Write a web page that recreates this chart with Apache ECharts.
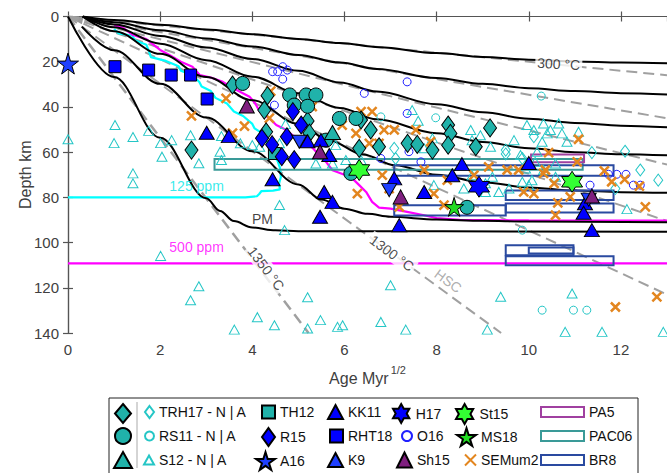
<!DOCTYPE html>
<html><head><meta charset="utf-8">
<script src="https://cdn.jsdelivr.net/npm/echarts@6/dist/echarts.min.js"></script>
<style>html,body{margin:0;padding:0;background:#fff}#c{width:667px;height:473px}</style>
</head><body><div id="c"></div>
<script>
// ---------------- data (x = Age Myr^1/2, y = Depth km) ----------------
const xTicks = [0, 2, 4, 6, 8, 10, 12];
const yTicks = [0, 20, 40, 60, 80, 100, 120, 140];

const trh17A = [[3.57,30.3],[2.68,59.1],[4.33,35],[4.26,41.4],[4.3,51],[5.2,46.2],[5.24,51.6],[6.36,45.8],[6.57,50.2],[6.32,58.3],[6.75,57.6],[7.37,56.1],[7.58,56.6],[7.91,59.1],[8.25,48],[8.3,51.7],[8.25,56.9],[8.85,57.6],[9.16,49.3]];
const rs11A = [[3.79,29.6],[4.81,34.7],[5.17,34.7],[5.38,34.7],[4.91,39.2],[5.2,39.7],[5.89,45.1],[6.25,45.1],[5.6,54.7],[6.14,69.4],[8.66,84.4]];
const s12A = [[5.74,51.3]];
const trh17N = [[7.08,58.3],[7.11,62.8],[9.5,59.1],[9.5,60.8],[11.37,60.2],[12.09,59.6],[10.11,53.2],[12.42,67.9],[12.81,72.4],[11.88,76.1],[9.86,62.8]];
const rs11N = [[6.79,44.4],[7.98,44.8],[10.27,35.2],[9.86,94.5],[10.29,129.9],[10.97,129.9],[11.26,129.9]];
const s12N = [[0,54.3],[1.02,48],[1.0,56],[1.41,53.3],[1.75,50.6],[2.01,56],[2.04,62],[2.25,54.7],[2.66,52.5],[2.84,64.9],[3.33,52.9],[3.3,59.8],[3.33,63.5],[3.74,56.1],[4.0,56.9],[4.16,57.6],[4.72,47.6],[4.59,56.1],[1.41,69.4],[1.41,73.8],[2.01,105.9],[2.84,119.3],[2.66,125.5],[3.61,138.5],[4.11,133],[4.48,136.6],[4.59,83.4],[4.7,94.5],[5.2,124.2],[5.2,138],[5.48,134.3],[5.85,137.3],[5.38,65],[5.74,65],[6.03,63.5],[6.36,63.5],[5.81,56.9],[7.47,41.4],[7.6,46.1],[7.91,53.9],[8.74,50.2],[8.95,52.5],[8.77,54.7],[9.17,57.6],[9.68,54.7],[7.73,58.3],[9.96,48],[10.32,47.3],[10.65,47.3],[10.47,50.2],[10.72,51.7],[10.11,50.2],[10.29,55.4],[10.4,51.7],[10.83,55.4],[11.08,51],[9.82,61.3],[10.18,59.8],[10.58,65],[10.14,64.3],[9.93,67.2],[7.0,118.9],[9.39,124],[10.94,122.5],[6.79,135.1],[7.33,138.5],[5.96,136.6],[9.1,138.5],[10.79,139.5],[11.59,139.5],[12.92,139.5],[12.13,85.2],[8.59,76.1],[9.06,77.6],[9.35,77.6],[9.57,76.1],[10.0,74.6],[10.07,72.4],[8.77,70.2],[10.32,67.9],[10.58,70.9],[9.86,73.1],[7.94,74.6],[9.21,70.9],[9.06,73.8]];
const th12 = [[4.48,60.6]];
const r15 = [[4.88,42.1],[5.06,48],[4.21,53.9],[4.43,56.7],[4.75,53.2],[4.64,62],[4.91,63.3]];
const a16 = [[0,20.8]];
const kk11 = [[3.01,51.4],[3.49,52.9],[5.2,55.2],[5.49,54.7],[5.67,61.3],[4.44,72],[5.56,77.6],[5.74,82],[5.47,88.6],[7.08,71.6],[7.73,77.6],[8.34,70.2],[8.55,65.3],[7.19,92.3],[10.0,64.8],[11.22,82.6],[11.19,86.8],[11.37,94.5]];
const rht18 = [[1.02,22.2],[1.75,23.7],[2.24,25.9],[2.66,25.9],[3.02,36.5]];
const k9 = [[5.02,55.4],[6.97,76.8],[11.3,81]];
const h17 = [[8.92,75.3]];
const o16 = [[4.66,22.2],[4.55,24.4],[4.76,23.7],[4.44,24.4],[4.66,27.7],[4.48,39.2],[6.43,34],[7.36,28.9],[7.36,42.9],[7.4,59.8],[6.79,62.8],[7.66,64.3],[11.73,69.8],[11.91,69.8],[12.11,69.8],[12.27,74.6],[12.42,74.6],[11.33,74.6]];
const sh15 = [[3.88,39.6],[5.47,59.8],[7.22,79.8],[11.37,79.4]];
const st15 = [[6.32,67.9],[10.94,73.1]];
const ms18 = [[8.38,84.2]];
const semum2 = [[3.43,36.2],[2.68,44],[3.83,48.5],[3.57,51.6],[4.37,45],[4.4,33],[5.3,39.9],[5.95,48],[6.25,51.7],[6.36,42.1],[6.6,42.1],[6.54,56.1],[6.86,50.2],[7.08,50.2],[7.55,50.2],[7.87,55.4],[6.75,56.1],[7.73,67.9],[9.13,66.5],[9.53,67.9],[11.08,54.3],[10.43,60.2],[11.05,64.3],[6.82,70.2],[6.28,78.3],[7.94,78.3],[8.23,72.4],[6.97,76.1],[7.19,84.2],[9.78,67.9],[10.11,78.3],[10.32,69.4],[10.55,73.8],[10.63,82.4],[10.58,87.9],[10.9,79.8],[11.64,68.3],[12.08,72],[12.4,75],[12.53,84.2],[11.88,128.5],[12.78,124],[8.81,70.2],[8.16,83.4],[9.89,77.6],[11.8,73.1],[10.36,67.9]];

// boxes: [xMin, xMax, depthTop, depthBottom]
const pa5 = [[10.05,11.2,61,64.5]];
const pac06 = [[3.18,11.17,63,67.8]];
const br8 = [[7.08,11.84,65.8,70.4],[9.5,11.84,77,81.2],[9.5,11.84,82.7,86.7],[7.08,9.5,83.5,88],[9.5,10.97,101.2,105.6],[10.0,10.97,102.2,104.8],[9.5,11.84,106,110]];

// model curves
const plateIso1 = [[0.32,0],[1,1.5],[2,3.6],[3,5.7],[4,7.8],[5,9.9],[5.9,11.7],[6.75,13.6],[8,16.2],[9,17.9],[10,19.1],[11,19.9],[12,20.4],[13,20.7]];
const plateIso2 = [[0.32,0],[1,2.5],[2,6.1],[3,9.7],[4,13.3],[5,17],[5.9,20.4],[6.7,23.2],[8,27.2],[9,29.8],[10,31.7],[11,33],[12,33.9],[13,34.5]];
const plateIso3 = [[0.32,0],[1,3.5],[2,8.6],[3,13.7],[4,18.8],[5,24],[5.9,29.2],[6.7,33.2],[8,38.8],[9,42.4],[10,45.2],[11,47.1],[12,48.3],[13,49]];
const plateIso4 = [[0.32,0],[1,4.8],[2,12],[3,19.3],[4,26.6],[5,34],[5.9,40.5],[6.7,45.5],[8,51.6],[9,55.5],[10,58.3],[11,60],[12,60.9],[13,61.4]];
const plateIso5 = [[0.32,0],[1,6.5],[2,16.5],[3,26.8],[4,37],[5,47.5],[5.67,54.8],[6.4,61],[7.1,65.8],[8,70],[9,73.3],[10,75.6],[11,77],[12,77.7],[13,78]];
const plate1300 = [[0.3,4.5],[1,14.9],[2,29.8],[3,44.7],[4,59.6],[5,74.3],[5.5,81],[6,85],[6.5,87.3],[7,88.6],[8,89.8],[9,90.4],[10,90.7],[13,91]];
const plate1350 = [[0,0],[1,26.8],[2,53.6],[3,80.4],[3.3,86],[3.6,90.5],[4,93.3],[4.5,94.6],[5,95],[13,95.2]];
const hsc1 = [[0,0],[13,26]];
const hsc2 = [[0,0],[13,45]];
const hsc3 = [[0,0],[13,65.5]];
const hsc4 = [[0,0],[13,90.5]];
const hsc5 = [[0,0],[13,123]];
const hsc1300 = [[0,0],[9.4,140]];
const hsc1350 = [[0,0],[5.22,140]];
const originWedge = [[0,0],[0.3,3.4],[0.34,0]];
const ppm125 = [[1.0,5.5],[1.1,7.5],[1.4,8.5],[1.45,10.5],[1.7,12.5],[1.75,15],[1.8,18],[2.1,19.5],[2.4,22],[2.45,24],[2.7,26],[2.85,29],[2.9,31],[3.1,33],[3.2,36],[3.45,38.5],[3.6,42],[3.8,44],[4.0,47.5],[4.05,49.5],[4.2,51.5],[4.3,54.5],[4.35,57],[4.45,61],[4.55,64],[4.6,67],[4.62,71],[4.58,74],[4.6,76.5],[4.45,77],[4.2,77.2],[4.15,78.5],[4.1,79.5],[3.85,80],[0,80]];
const ppm500 = [[1.0,3.8],[1.2,5],[1.41,8.2],[1.7,10],[2.0,14.8],[2.2,17],[2.45,20],[2.7,22.2],[2.86,25.9],[3.1,27],[3.36,28.9],[3.66,32.5],[3.94,35.5],[4.05,38],[4.16,42],[4.37,45],[4.52,48],[4.74,50.2],[4.87,52.5],[5.17,55.4],[5.3,58],[5.45,61.3],[5.6,64.3],[5.74,68],[6.0,70],[6.17,71.6],[6.32,74.6],[6.47,77.6],[6.6,82],[6.75,84.5],[7.0,85],[7.36,86.4],[7.73,87.9],[8.0,89.2],[8.5,90],[10,90.2],[13,90.3]];
const ppm500Flat = [[0,109.2],[13,109.2]];

// annotations
const noteTexts = ['300 °C', '1300 °C', 'HSC', '1350 °C', 'PM', '125 ppm', '500 ppm'];
const noteAnchors = [[10.65,21],[7.03,104.7],[8.25,117],[4.3,111.5],[4.22,89.6],[2.79,75],[2.79,102]];

// legend layout: [name, column, row]
const legendCells = [
  ['TRH17 - A',0,0],['RS11 - A',0,1],['S12 - A',0,2],
  ['TRH17 - N | A',1,0],['RS11 - N | A',1,1],['S12 - N | A',1,2],
  ['TH12',2,0],['R15',2,1],['A16',2,2],
  ['KK11',3,0],['RHT18',3,1],['K9',3,2],
  ['H17',4,0],['O16',4,1],['Sh15',4,2],
  ['St15',5,0],['MS18',5,1],['SEMum2',5,2],
  ['PA5',6,0],['PAC06',6,1],['BR8',6,2]
];

// ---------------- styling ----------------
const FONT = 'Liberation Sans, Arial, Helvetica, sans-serif';
const TEAL = '#20b2aa', CYAN = '#25c6c6', BLUE = '#0000ff', BLUE2 = '#1f40ff', PURPLE = '#7f1f7f', ORANGE = '#e3861f';
const STAR5 = 'path://M50,0 L61,35 L98,35 L68,57 L79,91 L50,70 L21,91 L32,57 L2,35 L39,35 Z';
const STAR6 = 'path://M50,0 L64,25 L93,25 L79,50 L93,75 L64,75 L50,100 L36,75 L7,75 L21,50 L7,25 L36,25 Z';
const XMARK = 'path://M0,0 L10,10 M10,0 L0,10';
const BOXCOL = { PA5: '#a040a0', PAC06: '#3a9a98', BR8: '#2a4aa0' };

function sc(name, data, symbol, size, fill, stroke, bw, z, extra) {
  return Object.assign({
    type: 'scatter', name, data, symbol, symbolSize: size, clip: false, z, silent: true,
    itemStyle: { color: fill, borderColor: stroke, borderWidth: bw, opacity: 1 },
    emphasis: { disabled: true }
  }, extra || {});
}
function ln(data, color, width, dash, z, smooth) {
  return { type: 'line', data, showSymbol: false, symbol: 'none', silent: true, z,
    smooth: smooth ? 0.35 : false, smoothMonotone: smooth ? 'x' : undefined,
    lineStyle: { color, width, type: dash ? [11, 6] : 'solid', cap: 'butt' }, emphasis: { disabled: true } };
}
function boxSeries(name, boxes, color) {
  return { type: 'custom', name, data: boxes, clip: false, z: 3, silent: true,
    encode: { x: [0, 1], y: [2, 3] }, itemStyle: { color },
    renderItem(params, api) {
      const p0 = api.coord([api.value(0), api.value(2)]);
      const p1 = api.coord([api.value(1), api.value(3)]);
      return { type: 'rect', shape: { x: p0[0], y: p0[1], width: p1[0] - p0[0], height: p1[1] - p0[1] },
        style: { fill: 'none', stroke: color, lineWidth: 2 } };
    } };
}

const noteStyles = [
  { color: '#111', rotate: -3, backgroundColor: '#fff' },
  { color: '#222', rotate: -36, backgroundColor: '#fff' },
  { color: '#9a9a9a', rotate: -36 },
  { color: '#222', rotate: -53, backgroundColor: '#fff' },
  { color: '#111', rotate: 0 },
  { color: '#00e6e6', rotate: 0, fontSize: 14 },
  { color: '#ff00ff', rotate: 0, fontSize: 14 }
];
const noteData = noteTexts.map((t, i) => ({
  value: noteAnchors[i],
  label: Object.assign({ show: true, position: 'inside', formatter: t, fontSize: 14, fontFamily: FONT, padding: [1, 2] }, noteStyles[i])
}));

const colText = [null, 158, 279, 347, 416, 480, 588];
const iconSize = {
  'TRH17 - A': [16, 19], 'RS11 - A': [16, 16], 'S12 - A': [18, 16],
  'TRH17 - N | A': [9, 12], 'RS11 - N | A': [9, 9], 'S12 - N | A': [10, 9],
  TH12: [13, 13], R15: [13, 18], A16: [19, 19],
  KK11: [15, 14], RHT18: [13, 13], K9: [15, 14],
  H17: [19, 19], O16: [10, 10], Sh15: [15, 15],
  St15: [20, 20], MS18: [19, 19], SEMum2: [11, 11],
  PA5: [43, 10], PAC06: [43, 10], BR8: [43, 10]
};
const rowMid = [413, 437, 461];
const legendText = { fontFamily: FONT, fontSize: 14, color: '#111', lineHeight: 18 };
const legends = legendCells.map(([name, c, r]) => {
  const [w, h] = iconSize[name];
  const item = BOXCOL[name]
    ? { name, icon: 'rect', itemStyle: { color: 'rgba(0,0,0,0)', borderColor: BOXCOL[name], borderWidth: 2 } }
    : name;
  const left = c === 0 ? 122 - w / 2 : colText[c] - 5 - w;
  const L = { left, top: rowMid[r] - 10, orient: 'horizontal', itemWidth: w, itemHeight: h,
    selectedMode: false, textStyle: legendText, data: [item], padding: 0 };
  if (c === 0) L.formatter = () => '';
  return L;
});

const axisLineStyle = { color: '#555', width: 1.2 };
const option = {
  animation: false,
  backgroundColor: '#fff',
  grid: { left: 68, right: 0, top: 16.5, bottom: 140, containLabel: false },
  xAxis: [
    { type: 'value', min: 0, max: 13, interval: 2, position: 'bottom',
      name: '{a|Age Myr}{b|1/2}', nameLocation: 'middle', nameGap: 31,
      nameTextStyle: { rich: { a: { fontFamily: FONT, fontSize: 16, color: '#404040', lineHeight: 22, verticalAlign: 'bottom' },
                               b: { fontFamily: FONT, fontSize: 11, color: '#404040', lineHeight: 22, verticalAlign: 'top', padding: [0, 0, 0, 2] } } },
      axisLine: { show: true, lineStyle: axisLineStyle }, axisTick: { show: true, inside: true, length: 5, lineStyle: axisLineStyle },
      axisLabel: { fontFamily: FONT, fontSize: 15, color: '#404040', margin: 9, showMaxLabel: false,
        formatter: v => xTicks.includes(v) ? String(v) : '' },
      splitLine: { show: false } },
    { type: 'value', min: 0, max: 13, interval: 2, position: 'top',
      axisLine: { show: true, lineStyle: axisLineStyle }, axisTick: { show: true, inside: true, length: 5, lineStyle: axisLineStyle },
      axisLabel: { show: false }, splitLine: { show: false } }
  ],
  yAxis: [
    { type: 'value', min: 0, max: 140, interval: 20, inverse: true, position: 'left',
      name: 'Depth km', nameLocation: 'middle', nameGap: 35, nameMoveOverlap: false,
      nameTextStyle: { fontFamily: FONT, fontSize: 16, color: '#404040' },
      axisLine: { show: true, lineStyle: axisLineStyle }, axisTick: { show: true, inside: true, length: 5, lineStyle: axisLineStyle },
      axisLabel: { fontFamily: FONT, fontSize: 15, color: '#404040', margin: 9,
        formatter: v => yTicks.includes(v) ? String(v) : '' },
      splitLine: { show: false } },
    { type: 'value', min: 0, max: 140, interval: 20, inverse: true, position: 'right',
      axisLine: { show: true, lineStyle: axisLineStyle }, axisTick: { show: true, inside: true, length: 5, lineStyle: axisLineStyle },
      axisLabel: { show: false }, splitLine: { show: false } }
  ],
  legend: legends,
  graphic: [
    { type: 'rect', shape: { x: 109, y: 398, width: 529, height: 85 }, style: { fill: 'none', stroke: '#222', lineWidth: 1 }, silent: true },
    { type: 'line', shape: { x1: 137, y1: 402, x2: 137, y2: 468 }, style: { stroke: '#aaa', lineWidth: 1 }, silent: true }
  ],
  series: [
    { type: 'line', data: originWedge, showSymbol: false, symbol: 'none', silent: true, z: 1,
      lineStyle: { width: 0 }, areaStyle: { color: '#9a9a9a', opacity: 1, origin: 'start' } },
    ln(hsc1, '#a0a0a0', 2, true, 1), ln(hsc2, '#a0a0a0', 2, true, 1), ln(hsc3, '#a0a0a0', 2, true, 1),
    ln(hsc4, '#a0a0a0', 2, true, 1), ln(hsc5, '#a0a0a0', 2, true, 1), ln(hsc1300, '#a0a0a0', 2, true, 1),
    ln(hsc1350, '#a0a0a0', 2.5, true, 1),
    ln(ppm125, '#00ffff', 2.2, false, 2), ln(ppm500, '#ff00ff', 2.2, false, 2), ln(ppm500Flat, '#ff00ff', 2.2, false, 2),
    ln(plateIso1, '#000', 2, false, 2, true), ln(plateIso2, '#000', 2, false, 2, true), ln(plateIso3, '#000', 2, false, 2, true),
    ln(plateIso4, '#000', 2, false, 2, true), ln(plateIso5, '#000', 2, false, 2, true),
    ln(plate1300, '#000', 2, false, 2, true), ln(plate1350, '#000', 2, false, 2, true),
    boxSeries('PAC06', pac06, BOXCOL.PAC06), boxSeries('PA5', pa5, BOXCOL.PA5), boxSeries('BR8', br8, BOXCOL.BR8),
    sc('S12 - N | A', s12N, 'triangle', [10, 9], 'rgba(0,0,0,0)', CYAN, 1, 4),
    sc('TRH17 - N | A', trh17N, 'diamond', [9, 12], 'rgba(0,0,0,0)', CYAN, 1, 4),
    sc('RS11 - N | A', rs11N, 'circle', 8, 'rgba(0,0,0,0)', CYAN, 1, 4),
    sc('O16', o16, 'circle', 8, 'rgba(0,0,0,0)', '#2020ff', 1, 4),
    sc('SEMum2', semum2, XMARK, 9, 'rgba(0,0,0,0)', ORANGE, 2.5, 5),
    sc('TRH17 - A', trh17A, 'diamond', [13, 18], TEAL, '#000', 1, 6),
    sc('RS11 - A', rs11A, 'circle', 14, TEAL, '#000', 1, 6),
    sc('S12 - A', s12A, 'triangle', [16, 14], TEAL, '#000', 1, 6),
    sc('TH12', th12, 'rect', 12, TEAL, '#000', 1, 6),
    sc('R15', r15, 'diamond', [13, 18], BLUE, '#000', 1, 6),
    sc('A16', a16, STAR5, 21, BLUE2, '#000', 1, 6),
    sc('KK11', kk11, 'triangle', [15, 13], BLUE, '#000', 1, 6),
    sc('RHT18', rht18, 'rect', 12, BLUE, '#000', 1, 6),
    sc('K9', k9, 'triangle', [15, 13], BLUE2, '#000', 1, 6, { symbolRotate: 180 }),
    sc('H17', h17, STAR6, 21, BLUE, '#000', 1, 6),
    sc('Sh15', sh15, 'triangle', [15, 14], PURPLE, '#000', 1, 6),
    sc('St15', st15, STAR6, 21, '#33ff33', '#000', 1, 6),
    sc('MS18', ms18, STAR5, 19, '#22dd22', '#000', 1, 6),
    { type: 'scatter', name: '_notes', data: noteData, symbolSize: 1, clip: false, z: 7, silent: true,
      itemStyle: { color: 'rgba(0,0,0,0)' }, emphasis: { disabled: true } }
  ]
};
const chart = echarts.init(document.getElementById('c'), null, { renderer: 'svg', width: 667, height: 473 });
chart.setOption(option);
</script>
</body></html>
